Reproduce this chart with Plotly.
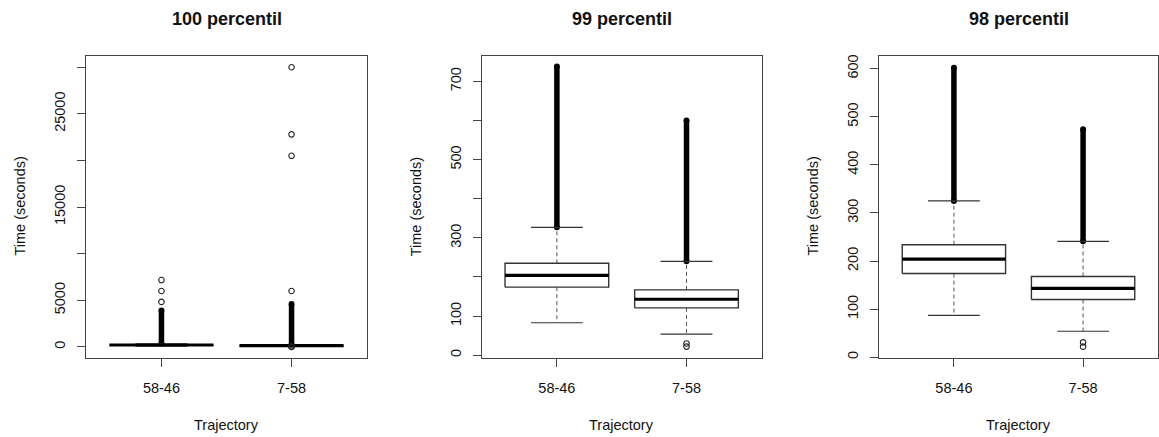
import plotly.graph_objects as go

# ---------------- data ----------------
categories = ["58-46", "7-58"]
panel_titles = ["100 percentil", "99 percentil", "98 percentil"]
x_title = "Trajectory"
y_title = "Time (seconds)"

# 100 percentil
q1_p100 = [174, 120]
median_p100 = [204, 143]
q3_p100 = [235, 168]
whisker_low_p100 = [86, 54]
whisker_high_p100 = [326, 240]
dense_top_p100 = [3900, 4610]
outliers_high_p100 = [[4830, 6000, 7170], [6000, 20500, 22800, 30000]]
outliers_low_p100 = [[], [5, 25, 45]]

# 99 percentil
q1_p99 = [174, 121]
median_p99 = [204, 143]
q3_p99 = [235, 167]
whisker_low_p99 = [83, 54]
whisker_high_p99 = [327, 240]
dense_top_p99 = [738, 600]
outliers_high_p99 = [[], []]
outliers_low_p99 = [[], [22, 30]]

# 98 percentil
q1_p98 = [174, 120]
median_p98 = [204, 143]
q3_p98 = [234, 168]
whisker_low_p98 = [87, 54]
whisker_high_p98 = [325, 241]
dense_top_p98 = [602, 474]
outliers_high_p98 = [[], []]
outliers_low_p98 = [[], [22, 31]]

# axis ticks
ytick_vals_p100 = [0, 5000, 10000, 15000, 20000, 25000, 30000]
ytick_text_p100 = ["0", "5000", "", "15000", "", "25000", ""]
ytick_vals_p99 = [0, 100, 200, 300, 400, 500, 600, 700]
ytick_text_p99 = ["0", "100", "", "300", "", "500", "", "700"]
ytick_vals_p98 = [0, 100, 200, 300, 400, 500, 600]
ytick_text_p98 = ["0", "100", "200", "300", "400", "500", "600"]
yrange_p100 = [-1140, 31245]
yrange_p99 = [-6, 766]
yrange_p98 = [-0.6, 627]

# ---------------- layout constants ----------------
W, H = 1159, 437
FONT = "Liberation Sans, Arial, Helvetica, sans-serif"
TXT = "#111111"
FRAME = "#444444"
x_domains_px = [(86, 367), (481.7, 761.7), (879, 1158)]
y_domain_px = (55, 359)
box_half = 0.4
cap_half = 0.2

panels = [
    dict(q1=q1_p100, med=median_p100, q3=q3_p100, wlo=whisker_low_p100, whi=whisker_high_p100,
         dtop=dense_top_p100, ohi=outliers_high_p100, olo=outliers_low_p100,
         tv=ytick_vals_p100, tt=ytick_text_p100, yr=yrange_p100),
    dict(q1=q1_p99, med=median_p99, q3=q3_p99, wlo=whisker_low_p99, whi=whisker_high_p99,
         dtop=dense_top_p99, ohi=outliers_high_p99, olo=outliers_low_p99,
         tv=ytick_vals_p99, tt=ytick_text_p99, yr=yrange_p99),
    dict(q1=q1_p98, med=median_p98, q3=q3_p98, wlo=whisker_low_p98, whi=whisker_high_p98,
         dtop=dense_top_p98, ohi=outliers_high_p98, olo=outliers_low_p98,
         tv=ytick_vals_p98, tt=ytick_text_p98, yr=yrange_p98),
]

fig = go.Figure()

def add(trace):
    fig.add_trace(trace)

for p_i, p in enumerate(panels):
    xa = "x" if p_i == 0 else f"x{p_i + 1}"
    ya = "y" if p_i == 0 else f"y{p_i + 1}"
    for c_i, cat in enumerate(categories):
        xc = c_i + 1
        common = dict(xaxis=xa, yaxis=ya, showlegend=False, hoverinfo="skip")
        # dense outlier column (upper)
        add(go.Scatter(x=[xc, xc], y=[p["whi"][c_i], p["dtop"][c_i]], mode="lines+markers",
                       line=dict(color="black", width=5.5),
                       marker=dict(color="black", size=6, symbol="circle"), **common))
        # whiskers dashed
        add(go.Scatter(x=[xc, xc], y=[p["q3"][c_i], p["whi"][c_i]], mode="lines",
                       line=dict(color="#555555", width=1, dash="4px,3px"), **common))
        add(go.Scatter(x=[xc, xc], y=[p["q1"][c_i], p["wlo"][c_i]], mode="lines",
                       line=dict(color="#555555", width=1, dash="4px,3px"), **common))
        # caps
        for v in (p["whi"][c_i], p["wlo"][c_i]):
            add(go.Scatter(x=[xc - cap_half, xc + cap_half], y=[v, v], mode="lines",
                           line=dict(color="#333333", width=1.2), **common))
        # box
        add(go.Scatter(x=[xc - box_half, xc + box_half, xc + box_half, xc - box_half, xc - box_half],
                       y=[p["q1"][c_i], p["q1"][c_i], p["q3"][c_i], p["q3"][c_i], p["q1"][c_i]],
                       mode="lines", line=dict(color="#333333", width=1.4), **common))
        # median
        add(go.Scatter(x=[xc - box_half, xc + box_half], y=[p["med"][c_i], p["med"][c_i]],
                       mode="lines", line=dict(color="black", width=3.2), **common))
        # outliers
        pts = p["ohi"][c_i] + p["olo"][c_i]
        if pts:
            add(go.Scatter(x=[xc] * len(pts), y=pts, mode="markers",
                           marker=dict(symbol="circle-open", size=5.5, color="#222222",
                                       line=dict(width=1.1, color="#222222")), **common))

layout = dict(
    width=W, height=H, margin=dict(l=0, r=0, t=0, b=0),
    paper_bgcolor="white", plot_bgcolor="white",
    font=dict(family=FONT, size=15, color=TXT),
    showlegend=False,
)
annotations = []
yd = [1 - y_domain_px[1] / H, 1 - y_domain_px[0] / H]
for p_i, p in enumerate(panels):
    sfx = "" if p_i == 0 else str(p_i + 1)
    x0, x1 = x_domains_px[p_i]
    layout["xaxis" + sfx] = dict(
        domain=[x0 / W, x1 / W], range=[0.42, 2.58], anchor="y" + sfx,
        tickmode="array", tickvals=[1, 2], ticktext=categories,
        ticks="outside", ticklen=8, tickwidth=1, tickcolor=FRAME,
        showline=True, linecolor=FRAME, linewidth=1, mirror=True,
        showgrid=False, zeroline=False, fixedrange=True,
        tickfont=dict(family=FONT, size=14.5, color=TXT), ticklabelstandoff=9,
    )
    layout["yaxis" + sfx] = dict(
        domain=yd, range=p["yr"], anchor="x" + sfx,
        tickmode="array", tickvals=p["tv"], ticktext=p["tt"], tickangle=-90,
        ticks="outside", ticklen=8, tickwidth=1, tickcolor=FRAME,
        showline=True, linecolor=FRAME, linewidth=1, mirror=True,
        showgrid=False, zeroline=False, fixedrange=True,
        tickfont=dict(family=FONT, size=14.5, color=TXT), ticklabelstandoff=6,
    )
    xc_px = (x0 + x1) / 2
    annotations.append(dict(text="<b>" + panel_titles[p_i] + "</b>", x=xc_px / W, y=1 - 18 / H,
                            xref="paper", yref="paper", xanchor="center", yanchor="middle",
                            showarrow=False, font=dict(family=FONT, size=18, color=TXT)))
    annotations.append(dict(text=x_title, x=xc_px / W, y=1 - 427 / H,
                            xref="paper", yref="paper", xanchor="center", yanchor="middle",
                            showarrow=False, font=dict(family=FONT, size=14.5, color=TXT)))
    annotations.append(dict(text=y_title, x=(x0 - 66) / W, y=1 - 207 / H, textangle=-90,
                            xref="paper", yref="paper", xanchor="center", yanchor="middle",
                            showarrow=False, font=dict(family=FONT, size=14.5, color=TXT)))
layout["annotations"] = annotations
fig.update_layout(**layout)

fig.write_html("out.html")
